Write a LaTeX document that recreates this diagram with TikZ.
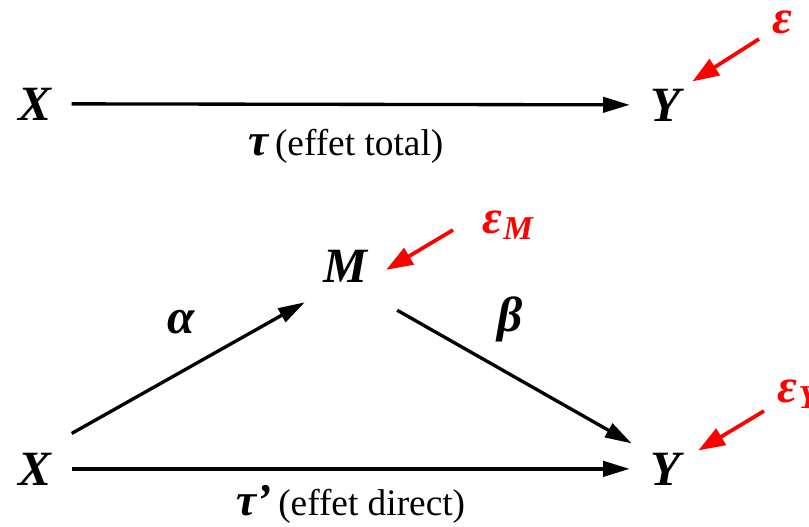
\documentclass[tikz,border=0pt]{standalone}
\usepackage{fontspec}
\setmainfont{Liberation Serif}
\usetikzlibrary{arrows.meta,calc}
\definecolor{errred}{HTML}{FF0000}
\newcommand{\grk}[1]{{\fontsize{34}{38}\selectfont\bfseries\itshape #1}}

\begin{document}
\begin{tikzpicture}[x=0.75pt,y=-0.75pt,
 var/.style={inner sep=0pt,anchor=base,font=\fontsize{37}{40}\selectfont\bfseries\itshape},
 coef/.style={inner sep=0pt,anchor=base,font=\fontsize{37}{40}\selectfont\bfseries\itshape},
 lab/.style={inner sep=0pt,anchor=base,font=\fontsize{28}{32}\selectfont},
 err/.style={inner sep=0pt,anchor=base west,text=errred,font=\fontsize{36}{40}\selectfont\bfseries\itshape},
 arr/.style={line width=2.5pt,-{Triangle[length=20pt,width=11.5pt]}},
 errarr/.style={draw=errred,line width=2.8pt,-{Triangle[length=20pt,width=14pt]}}]
\useasboundingbox (0,0) rectangle (809,526);
% total effect
\node[var] (x1) at (35,120) {X};
\node[var] (y1) at (666,121) {Y};
\node[err] (eps1) at (772,33) {ε};
\draw[arr] ($(x1.east)+(20,0)$) -- ($(y1.west)+(-21,0)$);
\draw[errarr] ($(eps1.base west)+(-13,6)$) -- ($(y1.north east)+(11,-7)$);
\node[lab] (ltot) at (346,155) {\grk{τ}\,(effet total)};
% mediation
\node[var] (x2) at (35,485) {X};
\node[var] (m) at (345,282) {M};
\node[var] (y2) at (666,485) {Y};
\node[err] (epsm) at (482,233) {ε\kern1pt{\fontsize{25}{27}\selectfont\raisebox{-5pt}{M}}};
\node[err] (epsy) at (777,402) {ε\kern1pt{\fontsize{25}{27}\selectfont\raisebox{-5pt}{Y}}};
\draw[arr] ($(x2.north east)+(20,-19)$) -- ($(m.south west)+(-18,20)$);
\draw[arr] ($(m.south east)+(30,28)$) -- ($(y2.north west)+(-19,-9)$);
\draw[arr] ($(x2.east)+(20,0)$) -- ($(y2.west)+(-21,0)$);
\draw[errarr] ($(epsm.base west)+(-29,-3)$) -- ($(m.east)+(19,4)$);
\draw[errarr] ($(epsy.base west)+(-13,9)$) -- ($(y2.north east)+(17,-2)$);
\node[coef] (alpha) at (181,333) {α};
\node[coef] (beta) at (510,331) {β};
\node[lab] (ldir) at (351,515) {\grk{τ’}\,(effet direct)};
\end{tikzpicture}
\end{document}
